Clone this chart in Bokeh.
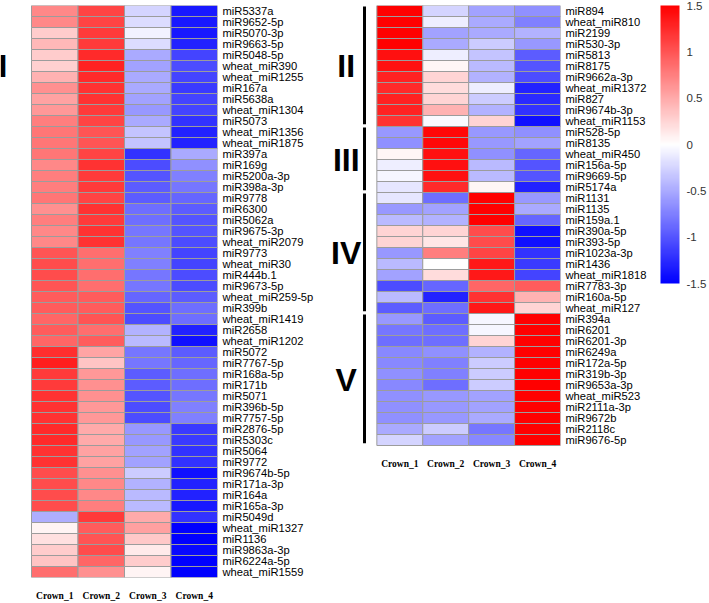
from bokeh.plotting import figure
from bokeh.layouts import row
from bokeh.models import (Range1d, FixedTicker, CustomJSTickFormatter,
                          LinearColorMapper, ColorBar, ColumnDataSource, Title)
from bokeh.core.properties import value
from bokeh.embed import file_html
from bokeh.resources import INLINE

samples = ["Crown_1", "Crown_2", "Crown_3", "Crown_4"]

left_group = "I"
left_names = ["miR5337a", "miR9652-5p", "miR5070-3p", "miR9663-5p", "miR5048-5p",
              "wheat_miR390", "wheat_miR1255", "miR167a", "miR5638a", "wheat_miR1304",
              "miR5073", "wheat_miR1356", "wheat_miR1875", "miR397a", "miR169g",
              "miR5200a-3p", "miR398a-3p", "miR9778", "miR6300", "miR5062a",
              "miR9675-3p", "wheat_miR2079", "miR9773", "wheat_miR30", "miR444b.1",
              "miR9673-5p", "wheat_miR259-5p", "miR399b", "wheat_miR1419", "miR2658",
              "wheat_miR1202", "miR5072", "miR7767-5p", "miR168a-5p", "miR171b",
              "miR5071", "miR396b-5p", "miR7757-5p", "miR2876-5p", "miR5303c",
              "miR5064", "miR9772", "miR9674b-5p", "miR171a-3p", "miR164a",
              "miR165a-3p", "miR5049d", "wheat_miR1327", "miR1136", "miR9863a-3p",
              "miR6224a-5p", "wheat_miR1559"]
left_crown1 = [0.7, 0.7, 0.3, 0.42, 0.3, 0.28, 0.45, 0.65, 0.55, 0.6,
               0.75, 0.8, 0.8, 0.8, 0.7, 0.75, 0.75, 0.8, 0.65, 0.75,
               0.7, 0.7, 1.0, 1.05, 1.05, 1.0, 0.95, 0.95, 0.9, 0.95,
               0.9, 1.22, 1.32, 1.15, 1.15, 1.2, 1.2, 1.2, 1.25, 1.25,
               1.2, 1.2, 1.05, 1.05, 1.05, 1.05, -0.47, 0.06, 0.18, 0.3,
               0.35, 0.85]
left_crown2 = [1.1, 1.1, 1.15, 1.15, 1.25, 1.3, 1.25, 1.2, 1.2, 1.15,
               1.1, 1.0, 1.0, 1.1, 1.2, 1.15, 1.15, 1.1, 1.2, 1.15,
               1.2, 1.2, 0.85, 0.85, 0.85, 0.85, 0.95, 0.95, 1.0, 0.85,
               0.95, 0.53, 0.35, 0.6, 0.65, 0.65, 0.6, 0.6, 0.5, 0.5,
               0.55, 0.55, 0.65, 0.7, 0.7, 0.75, 1.15, 0.95, 1.0, 1.05,
               0.9, 0.65]
left_crown3 = [-0.25, -0.2, -0.08, -0.2, -0.5, -0.55, -0.5, -0.5, -0.55, -0.6,
               -0.5, -0.35, -0.35, -1.2, -1.05, -1.0, -0.95, -0.95, -0.85, -0.85,
               -0.8, -0.8, -0.75, -0.75, -0.8, -0.8, -0.9, -1.0, -1.05, -0.45,
               -0.4, -0.8, -0.8, -0.95, -0.95, -1.0, -1.05, -1.05, -0.6, -0.6,
               -0.55, -0.55, -0.3, -0.45, -0.4, -0.4, 0.5, 0.56, 0.32, 0.12,
               0.3, 0.06]
left_crown4 = [-1.35, -1.35, -1.35, -1.3, -1.1, -1.05, -1.1, -1.15, -1.1, -1.1,
               -1.2, -1.3, -1.3, -0.5, -0.65, -0.75, -0.8, -0.9, -0.95, -1.0,
               -1.0, -1.05, -1.1, -1.1, -1.05, -1.05, -0.95, -0.85, -0.85, -1.3,
               -1.4, -0.95, -0.9, -0.85, -0.85, -0.8, -0.75, -0.75, -1.15, -1.15,
               -1.2, -1.2, -1.4, -1.3, -1.3, -1.35, -1.2, -1.5, -1.5, -1.45,
               -1.5, -1.5]

right_groups = ["II", "III", "IV", "V"]
right_group_sizes = [11, 6, 11, 12]
right_names = ["miR894", "wheat_miR810", "miR2199", "miR530-3p", "miR5813",
               "miR8175", "miR9662a-3p", "wheat_miR1372", "miR827", "miR9674b-3p",
               "wheat_miR1153", "miR528-5p", "miR8135", "wheat_miR450", "miR156a-5p",
               "miR9669-5p", "miR5174a", "miR1131", "miR1135", "miR159a.1",
               "miR390a-5p", "miR393-5p", "miR1023a-3p", "miR1436", "wheat_miR1818",
               "miR7783-3p", "miR160a-5p", "wheat_miR127", "miR394a", "miR6201",
               "miR6201-3p", "miR6249a", "miR172a-5p", "miR319b-3p", "miR9653a-3p",
               "wheat_miR523", "miR2111a-3p", "miR9672b", "miR2118c", "miR9676-5p"]
right_crown1 = [1.5, 1.5, 1.5, 1.5, 1.4, 1.4, 1.3, 1.25, 1.3, 1.3,
                1.2, -0.6, -0.65, 0.05, -0.1, -0.05, -0.15, -0.15, -0.6, -0.4,
                0.25, 0.25, -0.6, -0.4, -0.55, -1.05, -0.4, -0.95, -0.6, -0.8,
                -0.85, -0.7, -0.7, -0.65, -0.7, -0.65, -0.65, -0.65, -0.5, -0.25]
right_crown2 = [-0.25, -0.1, -0.55, -0.5, -0.1, 0.05, 0.25, 0.2, 0.25, 0.45,
                -0.03, 1.45, 1.45, 1.4, 1.4, 1.4, 1.25, -0.85, -0.55, -0.45,
                0.25, 0.15, 0.75, 0.0, 0.2, -0.9, -1.3, -0.85, -0.95, -0.85,
                -0.85, -0.65, -0.75, -0.75, -0.85, -0.6, -0.6, -0.6, -0.3, -0.55]
right_crown3 = [-0.55, -0.5, -0.5, -0.3, -0.35, -0.4, -0.45, -0.1, -0.3, -0.45,
                0.25, -0.6, -0.6, -0.65, -0.4, -0.4, 0.05, 1.5, 1.5, 1.5,
                1.05, 1.05, 1.1, 1.35, 1.35, 0.9, 1.2, 1.35, -0.05, -0.05,
                0.25, -0.45, -0.3, -0.3, -0.3, -0.55, -0.55, -0.5, -0.8, -0.7]
right_crown4 = [-0.65, -0.75, -0.45, -0.6, -0.95, -1.0, -1.05, -1.3, -1.25, -1.2,
                -1.4, -0.65, -0.55, -0.9, -1.0, -1.0, -1.3, -0.6, -0.5, -0.9,
                -1.4, -1.4, -1.2, -1.15, -1.1, 0.95, 0.45, 0.25, 1.5, 1.5,
                1.5, 1.5, 1.5, 1.5, 1.5, 1.5, 1.5, 1.5, 1.5, 1.5]

color_ticks = [-1.5, -1, -0.5, 0, 0.5, 1, 1.5]

# ---- styling / layout constants ----
COL_W = 46.5          # px per column
LABEL_FONT = "Liberation Sans"
FIG_H = 603
TOP = 5
BOTTOM = 20


def bwr_palette(n=256):
    pal = []
    for k in range(n):
        t = k / (n - 1)
        if t < 0.5:
            c = int(round(255 * t * 2))
            pal.append("#%02x%02x%02x" % (c, c, 255))
        else:
            c = int(round(255 * (1 - t) * 2))
            pal.append("#%02x%02x%02x" % (255, c, c))
    return pal


mapper = LinearColorMapper(palette=bwr_palette(), low=-1.5, high=1.5)


def heat_source(names, columns):
    n = len(names)
    xs, ys, vals = [], [], []
    for j, col in enumerate(columns):
        for i, v in enumerate(col):
            xs.append(j + 0.5)
            ys.append(n - i - 0.5)
            vals.append(v)
    return ColumnDataSource(dict(x=xs, y=ys, val=vals))


def style_axes(p, names, standoff_x):
    n = len(names)
    p.xgrid.visible = False
    p.ygrid.visible = False
    p.outline_line_color = None
    for ax in (p.xaxis[0], p.yaxis[0]):
        ax.axis_line_color = None
        ax.major_tick_line_color = None
        ax.minor_tick_line_color = None
        ax.major_tick_out = 0
        ax.major_tick_in = 0
        ax.minor_tick_out = 0
        ax.minor_tick_in = 0
    p.xaxis.ticker = FixedTicker(ticks=[j + 0.5 for j in range(len(samples))])
    p.xaxis.formatter = CustomJSTickFormatter(args=dict(names=samples),
                                              code="return names[Math.floor(tick)]")
    p.xaxis.major_label_text_font = "Liberation Serif"
    p.xaxis.major_label_text_font_style = "bold"
    p.xaxis.major_label_text_font_size = "9.5px"
    p.xaxis.major_label_text_color = "#000000"
    p.xaxis.major_label_standoff = standoff_x
    p.yaxis.ticker = FixedTicker(ticks=[i + 0.5 for i in range(n)])
    p.yaxis.formatter = CustomJSTickFormatter(args=dict(names=names[::-1]),
                                              code="return names[Math.floor(tick)]")
    p.yaxis.major_label_text_font = LABEL_FONT
    p.yaxis.major_label_text_font_size = "11.2px"
    p.yaxis.major_label_text_color = "#000000"
    p.yaxis.major_label_standoff = 5


def draw_heat(p, names, columns):
    p.rect(x="x", y="y", width=1, height=1, source=heat_source(names, columns),
           fill_color={"field": "val", "transform": mapper},
           line_color="#9c9c9c", line_width=1)


n_l = len(left_names)
n_r = len(right_names)

# ---------------- left heatmap ----------------
left_pad = 31
p1 = figure(width=325, height=FIG_H,
            x_range=Range1d(-left_pad / COL_W, len(samples)),
            y_range=Range1d(0, n_l),
            y_axis_location="right", output_backend="svg", toolbar_location=None,
            min_border_left=0, min_border_top=TOP, min_border_right=108,
            min_border_bottom=BOTTOM)
draw_heat(p1, left_names, [left_crown1, left_crown2, left_crown3, left_crown4])
style_axes(p1, left_names, 13)
p1.text(x=[-28.5 / COL_W], y=[n_l - right_group_sizes[0] / 2],
        text=[left_group], text_font=value(LABEL_FONT), text_font_style="bold",
        text_font_size="32px", text_align="center", text_baseline="middle",
        text_color="#000000")

# ---------------- right heatmap ----------------
right_pad = 52
p2 = figure(width=384, height=FIG_H,
            x_range=Range1d(-right_pad / COL_W, len(samples)),
            y_range=Range1d(n_r - n_l, n_r),   # same row height as left panel
            y_axis_location="right", output_backend="svg", toolbar_location=None,
            min_border_left=0, min_border_top=TOP, min_border_right=146,
            min_border_bottom=BOTTOM)
draw_heat(p2, right_names, [right_crown1, right_crown2, right_crown3, right_crown4])
style_axes(p2, right_names, 13)
p2.xaxis.fixed_location = 0

gy0, gy1, gyc = [], [], []
start = 0
for size in right_group_sizes:
    top = n_r - start
    bot = n_r - start - size
    gy0.append(top - 0.1)
    gy1.append(bot + 0.2)
    gyc.append((top + bot) / 2)
    start += size
bar_x = -12.5 / COL_W
p2.segment(x0=[bar_x] * len(gy0), y0=gy0, x1=[bar_x] * len(gy0), y1=gy1,
           line_color="#000000", line_width=3)
p2.text(x=[-31 / COL_W] * len(right_groups), y=gyc, text=right_groups,
        text_font=value(LABEL_FONT), text_font_style="bold",
        text_font_size="32px", text_align="center", text_baseline="middle",
        text_color="#000000")

# thin empty spacer between the row labels and the colour bar
p2.add_layout(Title(text=" ", text_font_size="1px", standoff=8, offset=0), "right")

cb = ColorBar(color_mapper=mapper, ticker=FixedTicker(ticks=color_ticks),
              formatter=CustomJSTickFormatter(code="return String(tick)"),
              width=19, height=278, location="top_left", margin=0, padding=0,
              major_tick_line_color=None, minor_tick_line_color=None,
              major_tick_out=0, major_tick_in=0,
              bar_line_color=None, border_line_color=None,
              background_fill_color=None,
              major_label_text_font=LABEL_FONT,
              major_label_text_font_size="11.5px",
              major_label_text_color="#333333",
              label_standoff=7)
p2.add_layout(cb, "right")

layout = row(p1, p2)
open("out.html", "w").write(file_html(layout, INLINE))
